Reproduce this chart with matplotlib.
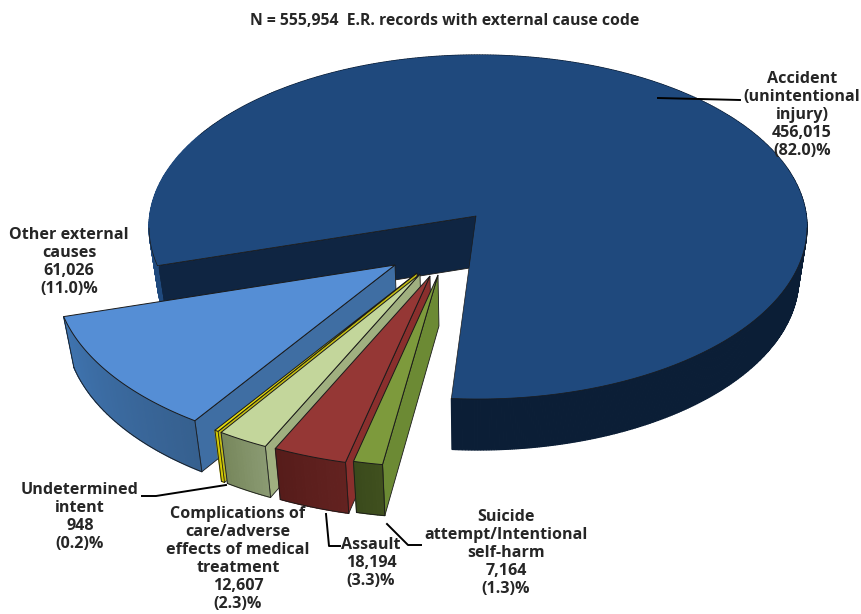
import matplotlib
matplotlib.use('Agg')
import matplotlib.pyplot as plt
from matplotlib.colors import to_rgb
from matplotlib.patches import Polygon
import numpy as np

plt.rcParams['font.family'] = ['Open Sans', 'DejaVu Sans']

names = ['Accident\n(unintentional\ninjury)', 'Other external\ncauses', 'Undetermined\nintent',
         'Complications of\ncare/adverse\neffects of medical\ntreatment', 'Assault',
         'Suicide\nattempt/Intentional\nself-harm']
counts = [456015, 61026, 948, 12607, 18194, 7164]
percents = [82.0, 11.0, 0.2, 2.3, 3.3, 1.3]
title = 'N = 555,954  E.R. records with external cause code'

# style per slice, in drawing order
top_colors = ['#1f497d', '#558ed5', '#e6dc0a', '#c3d69b', '#953735', '#7d9a3c']
cut_colors = ['#0f2542', '#3f6ea3', '#c4bd0f', '#a0b080', '#8a2f2d', '#6c8a34']
wall_left = ['#1f497d', '#3f74b0', '#b8b000', '#77875c', '#561c1a', '#3a4a1c']
wall_right = ['#0b1e36', '#36608f', '#d8ce00', '#8a9a72', '#632220', '#40501e']
apex_x = [476, 395, 417, 420, 430, 438]
apex_y = [216, 265, 273, 274, 276, 275]
scales = [1.0, 1.04, 1.05, 1.05, 1.05, 1.05]

label_x = [802, 69, 80, 238, 371, 506]
label_y = [115, 262, 517, 559, 563, 553]
leaders = [[(658, 98), (740, 100)],
           [],
           [(142, 496), (156, 496), (226, 485)],
           [],
           [(326, 514), (329, 546), (340, 546)],
           [(387, 524), (408, 545), (421, 545)]]

RX = 329
RY = 172
CX = 478
CY = 227
DEPTH = 51
START = 261.3
EDGE = '#1a1a1a'


def warp(theta):
    # slices near the viewer look a little wider
    return theta + 5 * np.exp(-((theta - 265) / 14) ** 2)


def rim(theta, x0, y0, scale):
    # rays leave the apex, which sits off the centre of the ellipse
    t = np.radians(warp(np.asarray(theta, dtype=float)))
    dx, dy = np.cos(t), -np.sin(t)
    ax_, ay_ = (apex_x[0] - CX) / RX, (apex_y[0] - CY) / RY
    b = ax_ * dx + ay_ * dy
    s = -b + np.sqrt(b ** 2 - ax_ ** 2 - ay_ ** 2 + 1)
    return x0 + scale * RX * s * dx, y0 + scale * RY * s * dy


def lower(x, y):
    return x + 0.025 * (apex_x[0] - x), y + DEPTH


def draw_slice(ax, i, t1, t2):
    theta = np.linspace(t1, t2, max(int((t2 - t1) * 2), 4))
    x, y = rim(theta, apex_x[i], apex_y[i], scales[i])
    x0, y0 = apex_x[i], apex_y[i]
    bx0, by0 = lower(x0, y0)
    z = i * 3

    # cut face on the end edge of the slice
    bfx, bfy = lower(x[-1], y[-1])
    ax.add_patch(Polygon([(x0, y0), (x[-1], y[-1]), (bfx, bfy), (bx0, by0)],
                         fc=cut_colors[i], ec=EDGE, lw=0.6, zorder=z + 1))

    # outer wall in short strips, shaded along the arc
    c1 = np.array(to_rgb(wall_left[i]))
    c2 = np.array(to_rgb(wall_right[i]))
    bx, by = lower(x, y)
    for k in range(len(x) - 1):
        if i == 0:
            # far left of the big slice catches the light
            f = 0.0 if x[k] < 200 else 1.0
        else:
            f = k / (len(x) - 2)
        col = c1 + (c2 - c1) * f
        ax.fill([x[k], x[k + 1], bx[k + 1], bx[k]], [y[k], y[k + 1], by[k + 1], by[k]],
                color=col, lw=0.9, zorder=z + 2)
    if i > 0:
        ax.plot(bx, by, color=EDGE, lw=0.6, zorder=z + 2)
        ax.plot([x[0], bx[0]], [y[0], by[0]], color=EDGE, lw=0.6, zorder=z + 2)
        ax.plot([x[-1], bx[-1]], [y[-1], by[-1]], color=EDGE, lw=0.6, zorder=z + 2)

    # top face
    px = np.concatenate([[x0], x])
    py = np.concatenate([[y0], y])
    if i == 0:
        ax.add_patch(Polygon(np.column_stack([px, py]), fc=top_colors[i], ec='none', zorder=z + 3))
        front = y > CY
        ax.plot(np.where(front, x, np.nan), y, color=EDGE, lw=0.5, zorder=z + 3)
        ax.plot([x[-1], x0, x[0]], [y[-1], y0, y[0]], color=EDGE, lw=0.5, zorder=z + 3)
    else:
        ax.add_patch(Polygon(np.column_stack([px, py]), fc=top_colors[i], ec=EDGE, lw=0.7, zorder=z + 3))


fig = plt.figure(figsize=(8.61, 6.14), dpi=100)
ax = fig.add_axes([0, 0, 1, 1])
ax.set_xlim(0, 861)
ax.set_ylim(614, 0)
ax.axis('off')

angle = START
spans = np.array(counts) / sum(counts) * 360
for i, span in enumerate(spans):
    draw_slice(ax, i, angle, angle + span)
    angle += span

for i in range(len(names)):
    label = f'{names[i]}\n{counts[i]:,}\n({percents[i]:.1f})%'
    ax.text(label_x[i], label_y[i], label, ha='center', va='center', fontsize=11.6, fontweight='bold',
            color='#262626', linespacing=1.16, zorder=30)
    if leaders[i]:
        lx, ly = zip(*leaders[i])
        ax.plot(lx, ly, color='black', lw=1.4, zorder=29)

ax.text(445, 21, title, ha='center', va='center', fontsize=11.3, fontweight='bold', color='#262626')

plt.savefig('out.png', dpi=100)
